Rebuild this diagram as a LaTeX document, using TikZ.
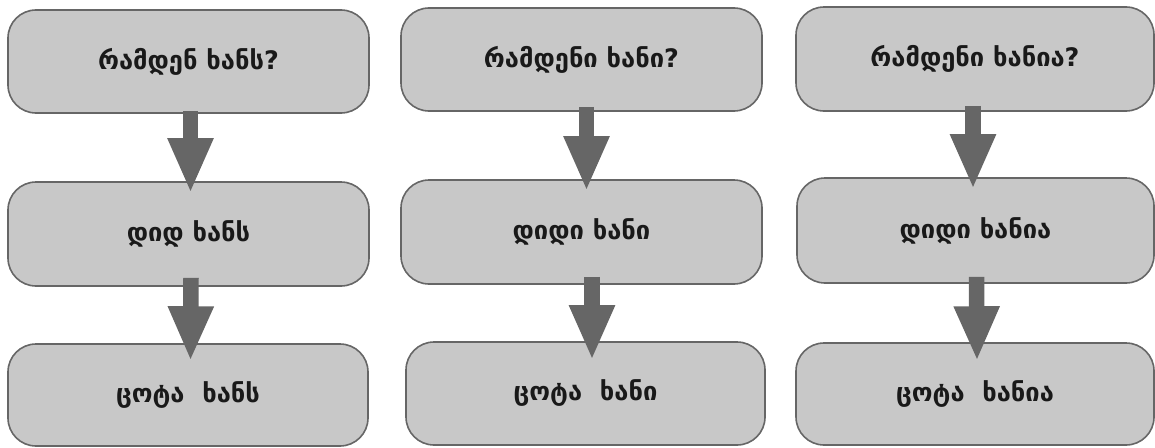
\documentclass[tikz,border=0pt]{standalone}
\usepackage{fontspec}
\setmainfont{DejaVu Sans}
\usetikzlibrary{arrows.meta}
\definecolor{boxfill}{HTML}{C8C8C8}
\definecolor{boxline}{HTML}{666666}
\definecolor{arrowc}{HTML}{666666}
\tikzset{
  box/.style={draw=boxline, line width=1.6pt, fill=boxfill, rounded corners=28pt,
    inner sep=0pt, font=\fontsize{25.5}{28}\selectfont\bfseries, text=black!90},
  blockarrow/.style={draw=arrowc, line width=15.5pt,
    -{Triangle[length=55pt,width=42pt]}}
}
\begin{document}
\begin{tikzpicture}[x=1pt,y=-1pt]
\useasboundingbox (0,0) rectangle (1155,447);
% column 1
\node[box, minimum width=361pt, minimum height=103pt] (a1) at (188.5,61.5) {რამდენ ხანს?};
\node[box, minimum width=361pt, minimum height=104pt] (a2) at (188.5,234) {დიდ ხანს};
\node[box, minimum width=360pt, minimum height=102pt] (a3) at (188,395) {ცოტა~ ხანს};
% column 2
\node[box, minimum width=361pt, minimum height=103pt] (b1) at (581.5,59.5) {რამდენი ხანი?};
\node[box, minimum width=361pt, minimum height=104pt] (b2) at (581.5,232) {დიდი ხანი};
\node[box, minimum width=359pt, minimum height=103pt] (b3) at (585.5,393.5) {ცოტა~ ხანი};
% column 3
\node[box, minimum width=358pt, minimum height=104pt] (c1) at (975,59) {რამდენი ხანია?};
\node[box, minimum width=357pt, minimum height=105pt] (c2) at (975.5,230.5) {დიდი ხანია};
\node[box, minimum width=358pt, minimum height=102pt] (c3) at (975,394) {ცოტა~ ხანია};
% arrows
\draw[blockarrow] ([xshift=2pt,yshift=3pt]a1.south) -- ([xshift=2pt,yshift=-12pt]a2.north);
\draw[blockarrow] ([xshift=2.5pt,yshift=9pt]a2.south) -- ([xshift=2.5pt,yshift=-18pt]a3.north);
\draw[blockarrow] ([xshift=5pt,yshift=5pt]b1.south) -- ([xshift=5pt,yshift=-12pt]b2.north);
\draw[blockarrow] ([xshift=10.5pt,yshift=8pt]b2.south) -- ([xshift=6.5pt,yshift=-19pt]b3.north);
\draw[blockarrow] ([xshift=-2pt,yshift=6pt]c1.south) -- ([xshift=-2.5pt,yshift=-12pt]c2.north);
\draw[blockarrow] ([xshift=1pt,yshift=7pt]c2.south) -- ([xshift=2pt,yshift=-19pt]c3.north);
\end{tikzpicture}
\end{document}
